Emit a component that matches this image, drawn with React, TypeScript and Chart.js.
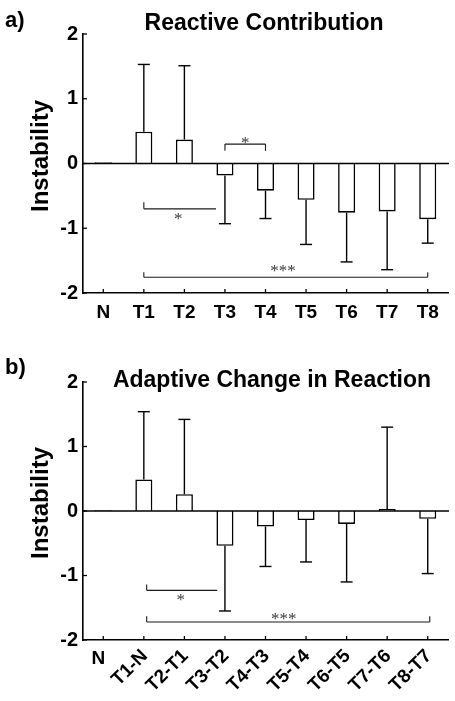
import React, { useEffect, useRef } from 'react';
import { Chart, registerables } from 'chart.js';

Chart.register(...registerables);

// ---------- data ----------
const reactiveLabels = ['N', 'T1', 'T2', 'T3', 'T4', 'T5', 'T6', 'T7', 'T8'];
const reactiveMeans = [0.02, 0.49, 0.37, -0.185, -0.42, -0.56, -0.76, -0.74, -0.86];
const reactiveSD = [0, 1.04, 1.14, 0.745, 0.43, 0.69, 0.76, 0.9, 0.37];

const adaptiveLabels = ['N', 'T1-N', 'T2-T1', 'T3-T2', 'T4-T3', 'T5-T4', 'T6-T5', 'T7-T6', 'T8-T7'];
const adaptiveMeans = [0.01, 0.49, 0.26, -0.54, -0.24, -0.14, -0.2, 0.03, -0.12];
const adaptiveSD = [0, 1.05, 1.16, 1.01, 0.62, 0.65, 0.9, 1.27, 0.85];

const yTickValues = [-2, -1, 0, 1, 2];

// significance brackets: x in category-index units, y in data units
type Bracket = {
  x1: number;
  x2: number;
  y: number;
  tick1: number | null;
  tick2: number | null;
  label: string;
  lx: number;
  ly: number;
};

const reactiveBrackets: Bracket[] = [
  { x1: 3, x2: 4, y: 0.3, tick1: 0.195, tick2: 0.195, label: '*', lx: 3.5, ly: 0.37 },
  { x1: 1, x2: 2.78, y: -0.7, tick1: -0.6, tick2: null, label: '*', lx: 1.85, ly: -0.8 },
  { x1: 1, x2: 8, y: -1.756, tick1: -1.68, tick2: -1.68, label: '***', lx: 4.43, ly: -1.61 },
];

const adaptiveBrackets: Bracket[] = [
  { x1: 1.07, x2: 2.81, y: -1.23, tick1: -1.14, tick2: null, label: '*', lx: 1.91, ly: -1.33 },
  { x1: 1.07, x2: 8.05, y: -1.72, tick1: -1.63, tick2: -1.63, label: '***', lx: 4.45, ly: -1.62 },
];

const SANS = '"Liberation Sans", Arial, Helvetica, sans-serif';
const SERIF = '"Liberation Serif", "Times New Roman", serif';

type PanelProps = {
  letter: string;
  title: string;
  titleX: number;
  titleBaseline: number;
  letterBaseline: number;
  labels: string[];
  means: number[];
  sds: number[];
  brackets: Bracket[];
  height: number;
  plotTop: number;
  plotBottom: number;
  rotated: boolean;
  yTitleCenter: number;
};

function Panel(p: PanelProps) {
  const ref = useRef<HTMLCanvasElement | null>(null);

  useEffect(() => {
    const canvas = ref.current;
    if (!canvas) return;

    const line = (ctx: CanvasRenderingContext2D, x1: number, y1: number, x2: number, y2: number) => {
      ctx.beginPath();
      ctx.moveTo(x1, y1);
      ctx.lineTo(x2, y2);
      ctx.stroke();
    };

    const overlay = {
      id: 'overlay',
      afterDatasetsDraw(chart: any) {
        const ctx: CanvasRenderingContext2D = chart.ctx;
        const xs = chart.scales.x;
        const ys = chart.scales.y;
        const ca = chart.chartArea;
        ctx.save();
        ctx.strokeStyle = '#000';
        ctx.lineCap = 'butt';

        // zero line
        const y0 = ys.getPixelForValue(0);
        ctx.lineWidth = 1.6;
        line(ctx, ca.left, y0, ca.right + 1, y0);

        // error bars (one-sided, away from zero)
        const meta = chart.getDatasetMeta(0);
        ctx.lineWidth = 1.4;
        meta.data.forEach((bar: any, i: number) => {
          const sd = p.sds[i];
          if (!sd) return;
          const m = p.means[i];
          const end = m >= 0 ? m + sd : m - sd;
          const yb = ys.getPixelForValue(m);
          const ye = ys.getPixelForValue(end);
          line(ctx, bar.x, yb, bar.x, ye);
          line(ctx, bar.x - 6, ye, bar.x + 6, ye);
        });

        // inward tick marks
        ctx.lineWidth = 1.3;
        yTickValues.forEach((v) => {
          const py = ys.getPixelForValue(v);
          line(ctx, ca.left, py, ca.left + 4, py);
        });
        p.labels.forEach((_, i) => {
          const px = xs.getPixelForValue(i);
          line(ctx, px, ca.bottom, px, ca.bottom - 4);
        });

        // brackets
        ctx.lineWidth = 1.1;
        ctx.strokeStyle = '#1a1a1a';
        p.brackets.forEach((b) => {
          const bx1 = xs.getPixelForValue(b.x1);
          const bx2 = xs.getPixelForValue(b.x2);
          const by = ys.getPixelForValue(b.y);
          line(ctx, bx1, by, bx2, by);
          if (b.tick1 !== null) line(ctx, bx1, by, bx1, ys.getPixelForValue(b.tick1));
          if (b.tick2 !== null) line(ctx, bx2, by, bx2, ys.getPixelForValue(b.tick2));
          ctx.fillStyle = '#3a3a3a';
          ctx.font = `17px ${SERIF}`;
          ctx.textAlign = 'center';
          ctx.textBaseline = 'alphabetic';
          ctx.fillText(b.label, xs.getPixelForValue(b.lx), ys.getPixelForValue(b.ly) + 8.5);
        });
        ctx.restore();
      },
      afterDraw(chart: any) {
        const ctx: CanvasRenderingContext2D = chart.ctx;
        const xs = chart.scales.x;
        const ca = chart.chartArea;
        ctx.save();
        ctx.fillStyle = '#000';

        // panel letter
        ctx.font = `bold 22px ${SANS}`;
        ctx.textAlign = 'left';
        ctx.textBaseline = 'alphabetic';
        ctx.fillText(p.letter, 5, p.letterBaseline);

        // title
        ctx.font = `bold 23px ${SANS}`;
        ctx.textAlign = 'center';
        ctx.fillText(p.title, p.titleX, p.titleBaseline);

        // y-axis title
        ctx.save();
        ctx.translate(48, p.yTitleCenter);
        ctx.rotate(-Math.PI / 2);
        ctx.font = `bold 24px ${SANS}`;
        ctx.textAlign = 'center';
        ctx.textBaseline = 'alphabetic';
        ctx.fillText('Instability', 0, 0);
        ctx.restore();

        // x labels
        ctx.font = `bold 19px ${SANS}`;
        p.labels.forEach((lab, i) => {
          const px = xs.getPixelForValue(i);
          if (!p.rotated) {
            ctx.textAlign = 'center';
            ctx.textBaseline = 'alphabetic';
            ctx.fillText(lab, px, ca.bottom + 25);
          } else if (i === 0) {
            ctx.textAlign = 'center';
            ctx.textBaseline = 'alphabetic';
            ctx.fillText(lab, px - 5, ca.bottom + 24);
          } else {
            ctx.save();
            ctx.translate(px + 1, ca.bottom + 13);
            ctx.rotate(-Math.PI / 4);
            ctx.textAlign = 'right';
            ctx.textBaseline = 'middle';
            ctx.fillText(lab, 0, 0);
            ctx.restore();
          }
        });
        ctx.restore();
      },
    };

    const chart = new Chart(canvas, {
      type: 'bar',
      data: {
        labels: p.labels,
        datasets: [
          {
            data: p.means,
            backgroundColor: '#ffffff',
            borderColor: '#000000',
            borderWidth: 1.6,
            categoryPercentage: 1,
            barPercentage: 0.42,
          },
        ],
      },
      options: {
        responsive: false,
        maintainAspectRatio: false,
        animation: false,
        events: [],
        layout: { padding: { top: p.plotTop, right: 7, left: 0, bottom: 0 } },
        plugins: {
          legend: { display: false },
          tooltip: { enabled: false },
          title: { display: false },
        },
        scales: {
          x: {
            type: 'category',
            offset: true,
            grid: { display: false, drawTicks: false, tickLength: 0 },
            border: { display: true, color: '#000', width: 1.6 },
            ticks: { display: false },
            afterFit: (s: any) => {
              s.height = p.height - p.plotBottom;
            },
          },
          y: {
            min: -2,
            max: 2,
            grid: { display: false, drawTicks: false, tickLength: 0 },
            border: { display: true, color: '#000', width: 1.6 },
            ticks: {
              stepSize: 1,
              padding: 5,
              color: '#000',
              font: { size: 20, weight: 'bold', family: SANS },
            },
            afterFit: (s: any) => {
              s.width = 83;
            },
          },
        },
      } as any,
      plugins: [overlay],
    });

    return () => chart.destroy();
  }, []);

  return (
    <canvas
      ref={ref}
      width={455}
      height={p.height}
      style={{ display: 'block', width: 455, height: p.height }}
    />
  );
}

export default function App() {
  return (
    <div
      style={{
        position: 'fixed',
        left: 0,
        top: 0,
        width: 455,
        height: 701,
        background: '#ffffff',
      }}
    >
      <Panel
        letter="a)"
        title="Reactive Contribution"
        titleX={264}
        titleBaseline={29.5}
        letterBaseline={27}
        labels={reactiveLabels}
        means={reactiveMeans}
        sds={reactiveSD}
        brackets={reactiveBrackets}
        height={340}
        plotTop={34}
        plotBottom={293}
        rotated={false}
        yTitleCenter={156}
      />
      <Panel
        letter="b)"
        title="Adaptive Change in Reaction"
        titleX={272}
        titleBaseline={47}
        letterBaseline={34}
        labels={adaptiveLabels}
        means={adaptiveMeans}
        sds={adaptiveSD}
        brackets={adaptiveBrackets}
        height={361}
        plotTop={42}
        plotBottom={300}
        rotated={true}
        yTitleCenter={163}
      />
    </div>
  );
}
